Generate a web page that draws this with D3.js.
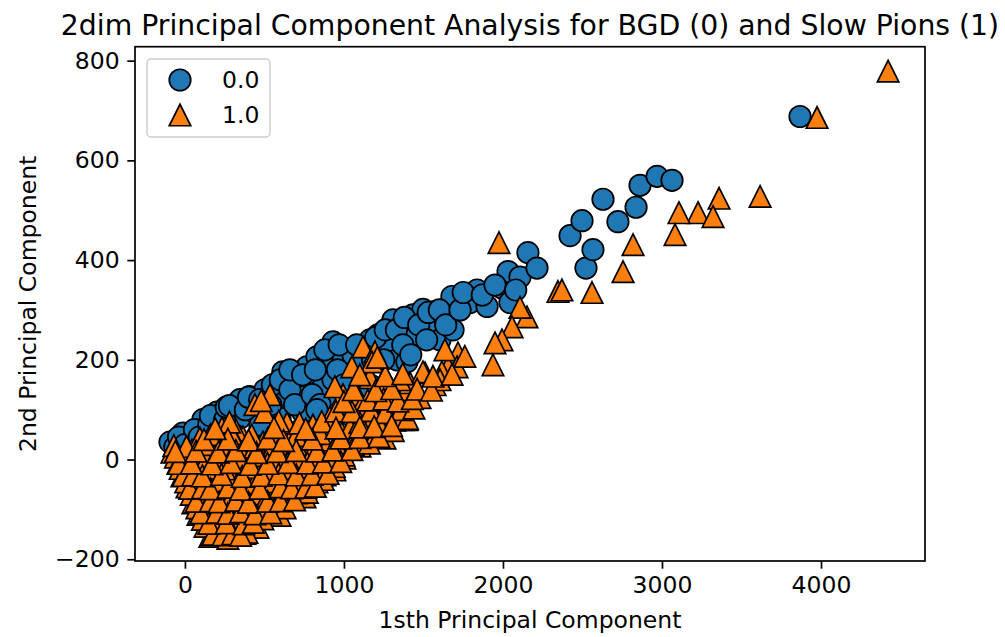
<!DOCTYPE html>
<html>
<head>
<meta charset="utf-8">
<script src="https://cdn.jsdelivr.net/npm/d3@7"></script>
<style>
  body { margin: 0; background: #fff; }
  text { font-family: "DejaVu Sans", sans-serif; fill: #000; }
</style>
</head>
<body>
<svg id="chart" width="1005" height="637"></svg>
<script>
// Class 0 (BGD): first / second principal component scores
const bgdX = [-94, -63, -13, 31, 63, 113, 126, 201, 189, 220, 302, 346, 346, 315, 409, 440, 472, 503, 579, 616,
  629, 598, 704, 723, 742, 767, 786, 830, 868, 893, 931, 931, 912, 994, 1057, 1088, 1120, 1145, 1164, 1214,
  1038, 1164, 1289, 1308, 1333, 1396, 1434, 1447, 1497, 1560, 1560, 1604, 1679, 1686, 1793, 1837, 1900, 1994, 2032, 2044,
  2107, 2157, 2214, 2422, 2497, 2522, 2566, 2629, 2723, 2837, 2862, 2969, 3063, 3868, 503, 660, 786, 723, 912, 1038, 1226,
  -40, 0, 60, 90, 150, 160, 250, 260, 280, 380, 400, 470, 540, 550, 600, 660, 660, 690, 740, 800,
  820, 850, 880, 960, 970, 1000, 1080, 1100, 1130, 1180, 1200, 1250, 1260, 1330, 1370, 1380, 1420, 1470, 1520, 1530,
  1600, 1640, 1730, 1750, 1870, 1950, 2080, 830];
const bgdY = [35, 25, 53, 39, 25, 80, 55, 95, 39, 69, 106, 120, 83, 49, 126, 95, 69, 140, 126, 176,
  150, 83, 146, 126, 95, 186, 164, 206, 146, 186, 236, 160, 110, 200, 210, 166, 186, 226, 240, 250,
  130, 150, 226, 280, 200, 196, 290, 250, 301, 296, 274, 240, 327, 260, 315, 340, 307, 344, 377, 315,
  366, 415, 384, 449, 479, 384, 421, 522, 477, 506, 550, 568, 560, 688, 29, 19, 39, 59, 59, 89, 120,
  45, 30, 60, 45, 70, 88, 80, 105, 108, 100, 125, 120, 110, 150, 160, 140, 180, 110, 170, 130,
  180, 110, 220, 180, 230, 150, 230, 190, 140, 200, 245, 200, 260, 260, 230, 285, 210, 270, 240, 295,
  300, 270, 300, 335, 330, 350, 340, 100];

// Class 1 (slow pions)
const pionX = [4422, 3975, 3617, 3359, 3227, 3107, 3321, 3082, 2818, 2755, 2560, 2346, 2371, 1975, 2151, 2107, 2057, 1994, 1950, 1937,
  1717, 1654, 1616, 1510,
  157, 270, 377,
  126, 233, 346, 459,
  82, 176, 302, 409, 522, 598,
  50, 113, 264, 365, 484, 554, 673, 755,
  13, 138, 233, 377, 491, 642, 723, 830,
  -19, 31, 170, 283, 421, 535, 642, 755, 881, 943,
  -44, 94, 208, 333, 453, 566, 692, 799, 912, 1006,
  -82, 44, 176, 283, 409, 547, 648, 799, 899, 987, 1101,
  94, 233, 365, 491, 660, 755, 912, 1038, 1138, 1258,
  233, 321, 642, 805, 912, 987, 1038, 1164, 1245, 1371,
  440, 535, 994, 1082, 1113, 1214, 1289, 1321, 1403, 1478, 1415, 1396,
  943, 1164, 1239, 1352, 1497, 1573, 1604,
  1050, 1120, 1195, 1176, 1635, 1711,
  200, 320, 390,
  110, 190, 290, 400, 490,
  75, 140, 240, 350, 455, 560, 630,
  40, 90, 180, 300, 420, 520, 610, 700, 770,
  5, 80, 190, 310, 440, 560, 690, 790, 870,
  -30, 10, 130, 250, 380, 500, 620, 730, 840, 940,
  -60, -20, 140, 240, 350, 480, 600, 730, 850, 950, 1000,
  -70, 10, 130, 240, 330, 440, 560, 700, 820, 950, 1060, 1160,
  160, 290, 420, 580, 700, 850, 1090, 1200, 1310,
  280, 590, 720, 860, 1100, 1210, 1320, 1400,
  500, 950, 1050, 1170, 1260, 1360, 1440,
  480, 1000, 1150, 1250, 1340, 1430,
  1060, 1200, 1300, 1460, 1550,
  1100, 1260, 1370, 1560, 1680,
  1210, 1760,
  175, 240, 300, 350,
  150, 260, 370, 430,
  100, 200, 270, 350, 440, 540,
  70, 160, 215, 320, 400, 520, 600, 690,
  30, 110, 160, 270, 350, 470, 600, 670, 760, 820,
  -10, 50, 110, 230, 360, 480, 590, 700, 800, 900,
  -40, 40, 170, 290, 410, 520, 650, 770, 870, 980,
  -60, 70, 210, 320, 450, 580, 700, 830, 930, 1050,
  120, 270, 400, 520, 620, 800, 980, 1100, 1220,
  190, 560, 760, 950, 1100, 1190, 1300];
const pionY = [779, 686, 528, 524, 495, 495, 487, 451, 431, 377, 335, 337, 340, 435, 286, 305, 266, 240, 234, 190,
  214, 186, 176, 174,
  -154, -158, -148,
  -134, -130, -128, -136,
  -110, -101, -112, -101, -108, -112,
  -87, -97, -87, -85, -81, -95, -77, -75,
  -55, -51, -61, -57, -51, -47, -61, -45,
  -33, -25, -37, -41, -29, -37, -27, -35, -31, -21,
  -7, -1, -11, -5, -13, -1, -7, -13, -3, 3,
  15, 19, 13, 19, 13, 13, 13, 9, 15, 19, 27,
  43, 37, 45, 35, 39, 43, 39, 49, 55, 43,
  63, 59, 73, 69, 85, 53, 63, 69, 63, 80,
  110, 130, 130, 130, 110, 106, 114, 99, 140, 124, 154, 80,
  146, 164, 154, 160, 176, 150, 160,
  186, 226, 216, 196, 220, 186,
  -145, -143, -146,
  -120, -122, -118, -121, -119,
  -97, -95, -98, -96, -99, -94, -97,
  -70, -72, -68, -71, -69, -73, -70, -67, -66,
  -45, -43, -46, -44, -47, -45, -42, -44, -40,
  -18, -20, -17, -19, -16, -21, -18, -15, -19, -14,
  5, 7, 4, 6, 3, 8, 5, 4, 7, 6, 9,
  28, 26, 30, 27, 29, 25, 28, 30, 27, 31, 29, 33,
  50, 52, 49, 51, 48, 52, 55, 50, 58,
  75, 77, 73, 76, 74, 78, 79, 82,
  95, 97, 96, 98, 94, 100, 103,
  118, 116, 119, 121, 117, 122,
  140, 138, 142, 141, 139,
  170, 168, 172, 167, 171,
  205, 207,
  -150, -151, -149, -152,
  -128, -127, -129, -126,
  -107, -106, -108, -105, -109, -107,
  -84, -83, -85, -82, -86, -84, -83, -81,
  -58, -57, -59, -56, -60, -58, -55, -57, -56, -54,
  -32, -31, -33, -30, -34, -32, -29, -31, -30, -28,
  -8, -7, -9, -6, -10, -8, -6, -7, -5, -4,
  16, 17, 15, 18, 14, 16, 18, 17, 19, 20,
  40, 41, 39, 42, 38, 41, 43, 44, 46,
  62, 64, 61, 63, 65, 66, 68];

const xTicks = [0, 1000, 2000, 3000, 4000];
const yTicks = [-200, 0, 200, 400, 600, 800];
const legendLabels = ["0.0", "1.0"];

const titleText = "2dim Principal Component Analysis for BGD (0) and Slow Pions (1)";
const xLabelText = "1sth Principal Component";
const yLabelText = "2nd Principal Component";

const plot = { left: 135, right: 925, top: 46.7, bottom: 561 };
const colors = ["#1f77b4", "#ff7f0e"];
const ms = 21.5;        // marker size (diameter / triangle side)
const edgeW = 1.7;

const svg = d3.select("#chart");

const x = d3.scaleLinear().domain([-314, 4654]).range([plot.left, plot.right]);
const y = d3.scaleLinear().domain([-203.5, 828]).range([plot.bottom, plot.top]);

const circlePath = d3.symbol().type(d3.symbolCircle).size(Math.PI * (ms / 2) ** 2)();
const trianglePath = `M0,${-ms / 2}L${ms / 2},${ms / 2}L${-ms / 2},${ms / 2}Z`;

// markers: class 0 first, class 1 drawn over it
const marks = svg.append("g");
marks.selectAll("path.c0")
  .data(d3.zip(bgdX, bgdY))
  .join("path")
  .attr("class", "c0")
  .attr("d", circlePath)
  .attr("transform", d => `translate(${x(d[0])},${y(d[1])})`)
  .attr("fill", colors[0])
  .attr("stroke", "#000")
  .attr("stroke-width", edgeW);

marks.selectAll("path.c1")
  .data(d3.zip(pionX, pionY))
  .join("path")
  .attr("class", "c1")
  .attr("d", trianglePath)
  .attr("transform", d => `translate(${x(d[0])},${y(d[1])})`)
  .attr("fill", colors[1])
  .attr("stroke", "#000")
  .attr("stroke-width", edgeW)
  .attr("stroke-linejoin", "miter");

// axes
const tickLen = 7.7, tickPad = 7.7, fontSize = 23.5;
const xAxis = svg.append("g")
  .attr("transform", `translate(0,${plot.bottom})`)
  .call(d3.axisBottom(x).tickValues(xTicks).tickSize(tickLen).tickPadding(tickPad).tickFormat(d3.format("d")));
const yAxis = svg.append("g")
  .attr("transform", `translate(${plot.left},0)`)
  .call(d3.axisLeft(y).tickValues(yTicks).tickSize(tickLen).tickPadding(tickPad).tickFormat(d3.format("d")));
[xAxis, yAxis].forEach(g => {
  g.select(".domain").remove();
  g.selectAll(".tick line").attr("stroke", "#000").attr("stroke-width", 1.7);
  g.selectAll(".tick text").attr("fill", "#000").style("font-size", fontSize + "px").style("font-family", "DejaVu Sans");
});

// frame
svg.append("rect")
  .attr("x", plot.left).attr("y", plot.top)
  .attr("width", plot.right - plot.left).attr("height", plot.bottom - plot.top)
  .attr("fill", "none").attr("stroke", "#000").attr("stroke-width", 1.7);

// title and axis labels
svg.append("text")
  .attr("x", (plot.left + plot.right) / 2).attr("y", 35)
  .attr("text-anchor", "middle").style("font-size", "28.3px")
  .text(titleText);
svg.append("text")
  .attr("x", (plot.left + plot.right) / 2).attr("y", 628)
  .attr("text-anchor", "middle").style("font-size", fontSize + "px")
  .text(xLabelText);
svg.append("text")
  .attr("transform", `translate(36,${(plot.top + plot.bottom) / 2}) rotate(-90)`)
  .attr("text-anchor", "middle").style("font-size", fontSize + "px")
  .text(yLabelText);

// legend
const leg = svg.append("g");
leg.append("rect")
  .attr("x", 147).attr("y", 59).attr("width", 123).attr("height", 78).attr("rx", 4)
  .attr("fill", "#fff").attr("fill-opacity", 0.8)
  .attr("stroke", "#ccc").attr("stroke-width", 1.4);
const legRows = leg.selectAll("g.row").data(legendLabels).join("g")
  .attr("class", "row")
  .attr("transform", (d, i) => `translate(180,${80 + i * 35})`);
legRows.append("path")
  .attr("d", (d, i) => i === 0 ? circlePath : trianglePath)
  .attr("fill", (d, i) => colors[i])
  .attr("stroke", "#000").attr("stroke-width", edgeW);
legRows.append("text")
  .attr("x", 42).attr("dy", "0.36em")
  .style("font-size", fontSize + "px")
  .text(d => d);
</script>
</body>
</html>
